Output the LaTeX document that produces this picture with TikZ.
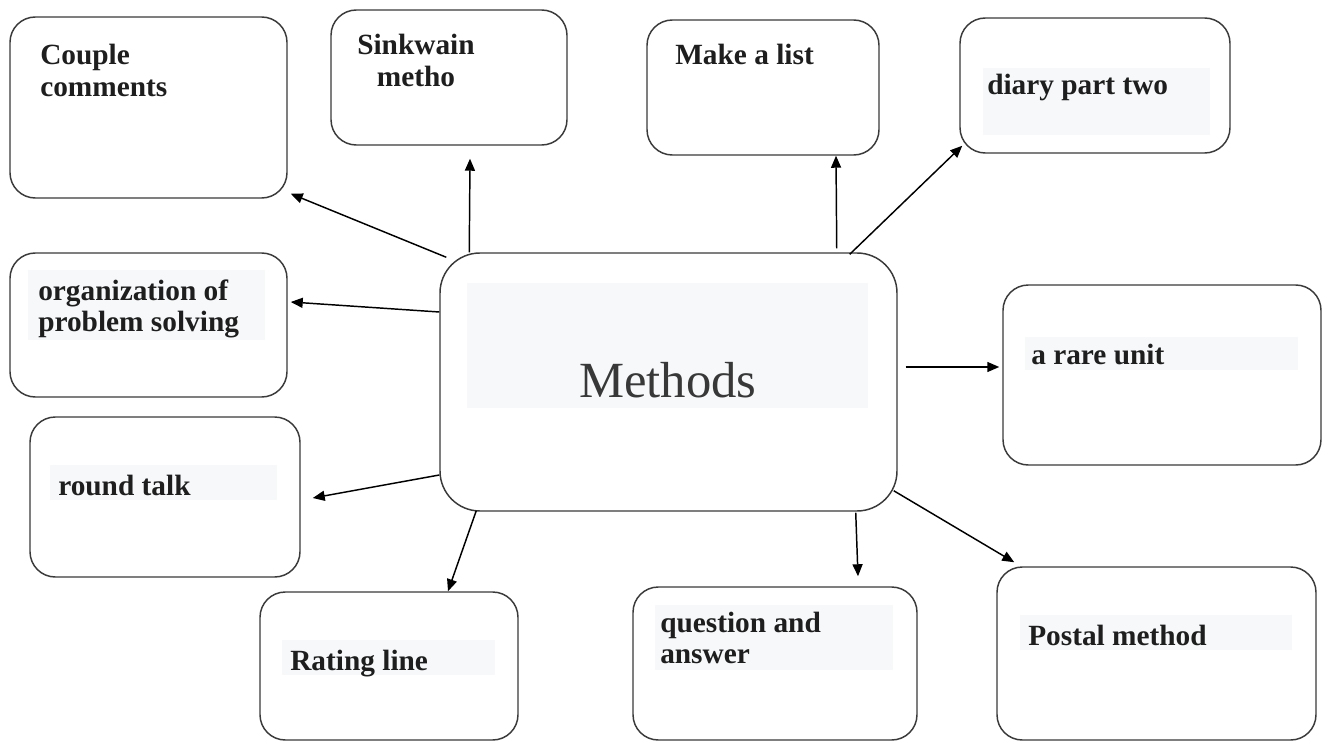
\documentclass[tikz,border=0pt]{standalone}
\usepackage{fontspec}
\setmainfont{Liberation Serif}
\usetikzlibrary{arrows.meta}
\definecolor{edge}{HTML}{3A3A3A}
\definecolor{shade}{HTML}{F6F8FA}
\definecolor{ink}{HTML}{1E1E1E}
\tikzset{
  box/.style={draw=edge, line width=1.1pt, rounded corners=19pt, fill=white, inner sep=0pt},
  bigbox/.style={box, rounded corners=30pt},
  lbl/.style={anchor=base west, inner sep=0pt, text=ink, font=\fontsize{22}{23.5}\selectfont\bfseries},
  arr/.style={draw=black, line width=1.1pt, -{Triangle[length=9pt,width=7.5pt]}},
  bg/.style={fill=shade, draw=none}
}
\newcommand{\twolines}[2]{\begin{tabular}[t]{@{}l@{}}#1\\#2\end{tabular}}
\begin{document}
\begin{tikzpicture}[x=0.75pt,y=-0.75pt]
\useasboundingbox (0,0) rectangle (1322,742);
% boxes
\node[box, minimum width=207.75pt, minimum height=135.75pt] (cc) at (148.5,107.5) {};
\node[box, minimum width=177pt, minimum height=101.25pt] (sk) at (449,77.5) {};
\node[box, minimum width=174pt, minimum height=101.25pt] (ml) at (763,87.5) {};
\node[box, minimum width=202.5pt, minimum height=101.25pt] (dp) at (1095,85.5) {};
\node[box, minimum width=207.75pt, minimum height=108pt] (org) at (148.5,325) {};
\node[bigbox, minimum width=342.75pt, minimum height=193.5pt] (m) at (668.5,382) {};
\node[box, minimum width=238.5pt, minimum height=135pt] (ru) at (1162,375) {};
\node[box, minimum width=202.5pt, minimum height=120pt] (rt) at (165,497) {};
\node[box, minimum width=193.5pt, minimum height=111pt] (rl) at (389,666) {};
\node[box, minimum width=213pt, minimum height=114.75pt] (qa) at (775,663.5) {};
\node[box, minimum width=239.25pt, minimum height=129.75pt] (pm) at (1156.5,653.5) {};
% light text backgrounds
\fill[bg] (467,283) rectangle (868,408);
\fill[bg] (983,68) rectangle (1210,135);
\fill[bg] (28,270) rectangle (265,340);
\fill[bg] (1025,337) rectangle (1298,370);
\fill[bg] (50,465) rectangle (277,500);
\fill[bg] (282,640) rectangle (495,675);
\fill[bg] (655,605) rectangle (893,670);
\fill[bg] (1020,615) rectangle (1292,650);
% labels
\node[lbl] (cct) at (40,65) {\twolines{Couple}{comments}};
\node[lbl] (skt) at (357,55) {\begin{tabular}[t]{@{}c@{}}Sinkwain\\metho\end{tabular}};
\node[lbl] (mlt) at (675,65) {Make a list};
\node[lbl] (dpt) at (987,94) {diary part two};
\node[lbl] (orgt) at (38,300) {\twolines{organization of}{problem solving}};
\node[anchor=base, inner sep=0pt, text=black!78, font=\fontsize{38}{40}\selectfont] (mt) at (668,397) {Methods};
\node[lbl] (rut) at (1031,364) {a rare unit};
\node[lbl] (rtt) at (58,495) {round talk};
\node[lbl] (rlt) at (290,670) {Rating line};
\node[lbl] (qat) at (660,632) {\twolines{question and}{answer}};
\node[lbl] (pmt) at (1028,645) {Postal method};
% arrows
\draw[arr] ([shift={(7,5)}]m.north west) -- ([shift={(3,-5)}]cc.south east);
\draw[arr] ([shift={(30,0)}]m.north west) -- ([shift={(21,13)}]sk.south);
\draw[arr] ([shift={(-61,-4)}]m.north east) -- ([shift={(73,0)}]ml.south);
\draw[arr] ([shift={(-48,2)}]m.north east) -- ([shift={(3,-8)}]dp.south west);
\draw[arr] ([shift={(0,-70)}]m.west) -- ([shift={(3,-23)}]org.east);
\draw[arr] ([shift={(8,-15)}]m.east) -- ([shift={(-3,-8)}]ru.west);
\draw[arr] ([shift={(0,93)}]m.west) -- ([shift={(12,1)}]rt.east);
\draw[arr] ([shift={(37,-1)}]m.south west) -- ([shift={(59,0)}]rl.north);
\draw[arr] ([shift={(-42,1)}]m.south east) -- ([shift={(83,-10)}]qa.north);
\draw[arr] ([shift={(-4,-21)}]m.south east) -- ([shift={(18,-4)}]pm.north west);
\end{tikzpicture}
\end{document}
